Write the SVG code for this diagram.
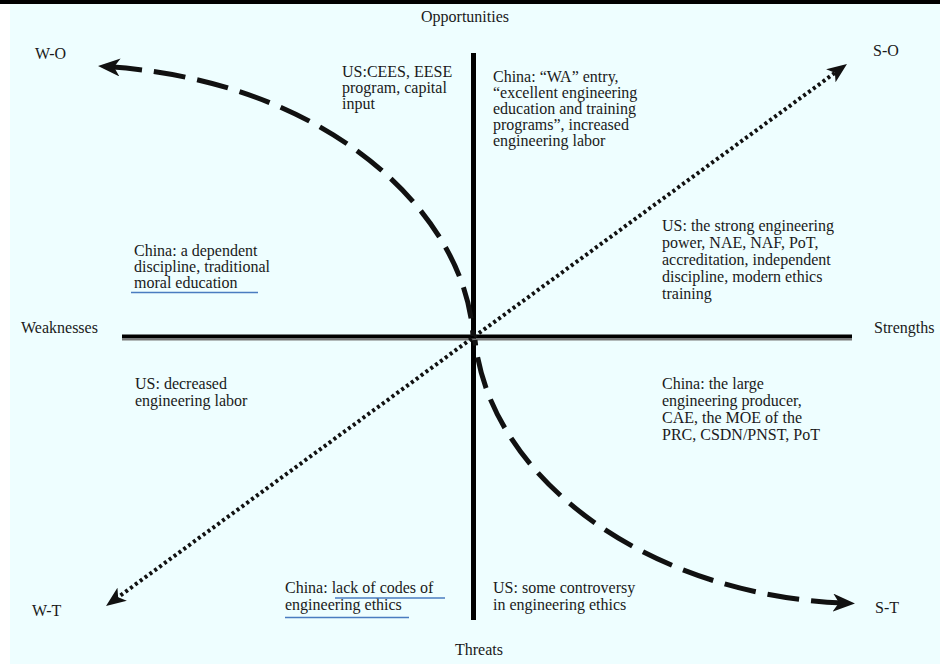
<svg xmlns="http://www.w3.org/2000/svg" width="940" height="664" viewBox="0 0 940 664">
  <style>
    .lbl { font-family: "Liberation Serif", "Times New Roman", serif; font-size: 16px; fill: #1a1a1a; }
    .axis { stroke: #000; stroke-width: 5; fill: none; }
    .dash { stroke: #111; stroke-width: 5; fill: none; stroke-dasharray: 32 12; }
    .dots { stroke: #111; stroke-width: 4; fill: none; stroke-dasharray: 3 3; }
    .uline { stroke: #4a7cc0; stroke-width: 1.6; }
  </style>
  <defs>
    <marker id="headBold" viewBox="0 0 22 18" refX="10" refY="9" markerWidth="22" markerHeight="18" markerUnits="userSpaceOnUse" orient="auto-start-reverse">
      <path d="M0,0 L22,9 L0,18 L6,9 z" fill="#111"/>
    </marker>
    <marker id="headDot" viewBox="0 0 20 16" refX="8" refY="8" markerWidth="20" markerHeight="16" markerUnits="userSpaceOnUse" orient="auto-start-reverse">
      <path d="M0,0 L20,8 L0,16 L5,8 z" fill="#111"/>
    </marker>
  </defs>

  <!-- page and frame -->
  <rect x="0" y="0" width="940" height="664" fill="#fff"/>
  <rect x="10" y="4" width="930" height="660" fill="#eefeff"/>
  <rect x="0" y="0" width="940" height="4" fill="#000"/>

  <!-- axes and strategy arrows -->
  <g id="connectors">
    <line class="axis" x1="473.5" y1="53" x2="473.5" y2="620"/>
    <line x1="122" y1="336.5" x2="852" y2="336.5" stroke="#000" stroke-width="4"/>
    <line x1="122" y1="339.5" x2="852" y2="339.5" stroke="#777" stroke-width="2"/>
    <path id="arrow-wo" class="dash" d="M110,66.8 C330,82 466,215 473,336" marker-start="url(#headBold)"/>
    <path id="arrow-st" class="dash" d="M843,603 C650,595 490,480 475,340" marker-start="url(#headBold)"/>
    <path id="arrow-wt-so" class="dots" d="M115.7,598.9 L837.3,71.1" marker-start="url(#headDot)" marker-end="url(#headDot)"/>
  </g>

  <!-- axis titles -->
  <g id="opportunities"><text class="lbl" x="465" y="22" text-anchor="middle">Opportunities</text></g>
  <g id="threats"><text class="lbl" x="455" y="655">Threats</text></g>
  <g id="weaknesses"><text class="lbl" x="21" y="333">Weaknesses</text></g>
  <g id="strengths"><text class="lbl" x="874" y="333">Strengths</text></g>

  <!-- corner strategies -->
  <g id="wo"><text class="lbl" x="35" y="59">W-O</text></g>
  <g id="so"><text class="lbl" x="873" y="56">S-O</text></g>
  <g id="wt"><text class="lbl" x="32" y="616">W-T</text></g>
  <g id="st"><text class="lbl" x="875" y="613">S-T</text></g>

  <!-- quadrant notes -->
  <g id="us-opportunities">
    <text class="lbl" x="342" y="77">US:CEES, EESE</text>
    <text class="lbl" x="342" y="93">program, capital</text>
    <text class="lbl" x="342" y="109">input</text>
  </g>
  <g id="china-opportunities">
    <text class="lbl" x="493" y="82">China: “WA” entry,</text>
    <text class="lbl" x="493" y="98">“excellent engineering</text>
    <text class="lbl" x="493" y="114">education and training</text>
    <text class="lbl" x="493" y="130">programs”, increased</text>
    <text class="lbl" x="493" y="146">engineering labor</text>
  </g>
  <g id="us-strengths">
    <text class="lbl" x="662" y="231">US: the strong engineering</text>
    <text class="lbl" x="662" y="248">power, NAE, NAF, PoT,</text>
    <text class="lbl" x="662" y="265">accreditation, independent</text>
    <text class="lbl" x="662" y="282">discipline, modern ethics</text>
    <text class="lbl" x="662" y="299">training</text>
  </g>
  <g id="china-weaknesses">
    <text class="lbl" x="134" y="256">China: a dependent</text>
    <text class="lbl" x="134" y="272">discipline, traditional</text>
    <text class="lbl" x="134" y="288">moral education</text>
    <line class="uline" x1="131" y1="292.5" x2="258" y2="292.5"/>
  </g>
  <g id="us-weaknesses">
    <text class="lbl" x="135" y="389">US: decreased</text>
    <text class="lbl" x="135" y="406">engineering labor</text>
  </g>
  <g id="china-strengths">
    <text class="lbl" x="662" y="389">China: the large</text>
    <text class="lbl" x="662" y="406">engineering producer,</text>
    <text class="lbl" x="662" y="423">CAE, the MOE of the</text>
    <text class="lbl" x="662" y="440">PRC, CSDN/PNST, PoT</text>
  </g>
  <g id="china-threats">
    <text class="lbl" x="285" y="593">China: lack of codes of</text>
    <text class="lbl" x="285" y="610">engineering ethics</text>
    <line class="uline" x1="335" y1="598" x2="445" y2="598"/>
    <line class="uline" x1="285" y1="617.5" x2="409" y2="617.5"/>
  </g>
  <g id="us-threats">
    <text class="lbl" x="493" y="593">US: some controversy</text>
    <text class="lbl" x="493" y="610">in engineering ethics</text>
  </g>
</svg>
